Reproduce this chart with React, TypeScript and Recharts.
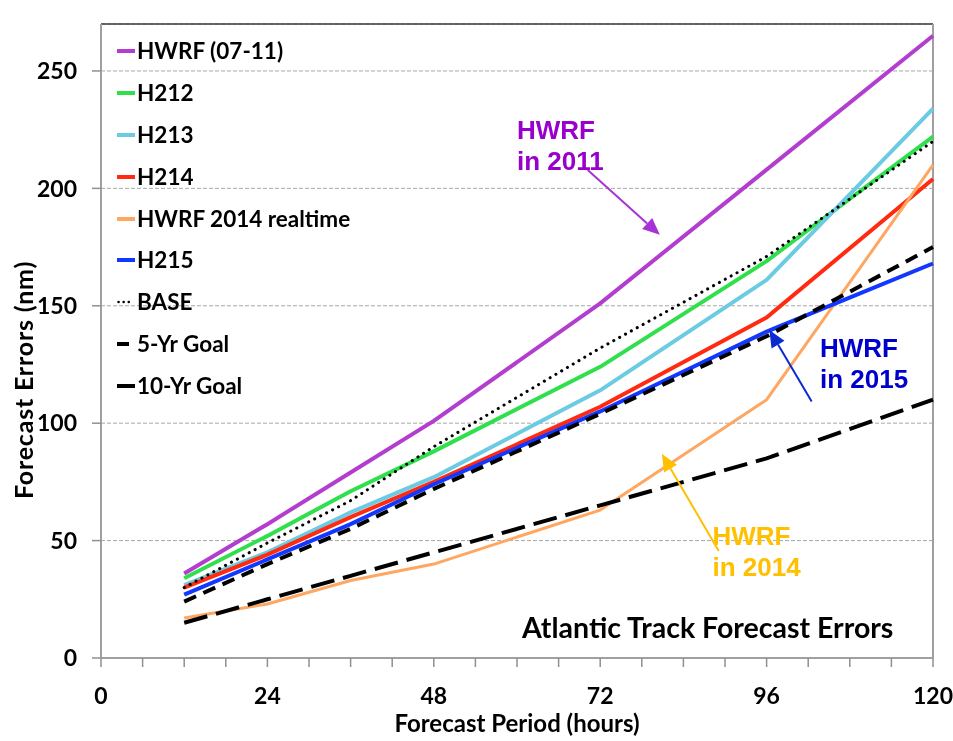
import React from 'react';
import {
  LineChart,
  Line,
  XAxis,
  YAxis,
  CartesianGrid,
  ReferenceLine,
  ReferenceDot,
  Legend,
  Label,
} from 'recharts';

// ---------- data ----------
const hours = [12, 24, 36, 48, 72, 96, 120];
const hwrf0711 = [36, 57, 79, 101, 151, 208, 265];
const h212 = [34, 52, 71, 88, 124, 169, 222];
const h213 = [31, 45, 62, 77, 114, 161, 234];
const h214 = [30, 44, 60, 75, 107, 145, 204];
const hwrf2014 = [17, 23, 33, 40, 63, 110, 210];
const h215 = [27, 42, 57, 74, 105, 139, 168];
const base = [30, 49, 67, 90, 132, 171, 220];
const goal5 = [24, 40, 55, 72, 104, 137, 175];
const goal10 = [15, 25, 35, 45, 65, 85, 110];

const xTicks = [0, 6, 12, 18, 24, 30, 36, 42, 48, 54, 60, 66, 72, 78, 84, 90, 96, 102, 108, 114, 120];
const yTicks = [0, 50, 100, 150, 200, 250];

const seriesNames = ['HWRF (07-11)', 'H212', 'H213', 'H214', 'HWRF 2014 realtime', 'H215', 'BASE', '5-Yr Goal', '10-Yr Goal'];
const seriesKeys = ['hwrf0711', 'h212', 'h213', 'h214', 'hwrf2014', 'h215', 'base', 'goal5', 'goal10'];
const seriesValues = [hwrf0711, h212, h213, h214, hwrf2014, h215, base, goal5, goal10];

// annotation anchors (data units)
const arrow2011 = [{ x: 70.2, y: 207.8 }, { x: 80.6, y: 180.2 }];
const arrow2015 = [{ x: 102.5, y: 109.2 }, { x: 96.4, y: 139.7 }];
const arrow2014 = [{ x: 89.1, y: 45.6 }, { x: 80.9, y: 86.9 }];
const note2011 = { x: 60.0, y: 221.0, lines: ['HWRF', 'in 2011'] };
const note2015 = { x: 103.7, y: 128.3, lines: ['HWRF', 'in 2015'] };
const note2014 = { x: 88.2, y: 48.1, lines: ['HWRF', 'in 2014'] };
const chartTitle = { x: 87.5, y: 8.5, text: 'Atlantic Track Forecast Errors' };

const data = hours.map((h, i) => {
  const row: Record<string, number> = { h };
  seriesKeys.forEach((k, j) => {
    row[k] = seriesValues[j][i];
  });
  return row;
});

// ---------- styles ----------
const styles: Record<string, { color: string; width: number; dash?: string; cap?: string; swatch: number }> = {
  hwrf0711: { color: '#B23DCF', width: 4, swatch: 18 },
  h212: { color: '#2FE04C', width: 4, swatch: 18 },
  h213: { color: '#6BCBE2', width: 4, swatch: 18 },
  h214: { color: '#FF2A10', width: 4, swatch: 18 },
  hwrf2014: { color: '#FFA661', width: 3, swatch: 18 },
  h215: { color: '#1238FF', width: 4, swatch: 18 },
  base: { color: '#000000', width: 3, dash: '0.1 6.6', cap: 'round', swatch: 13 },
  goal5: { color: '#000000', width: 4, dash: '13 8', swatch: 12 },
  goal10: { color: '#000000', width: 4, dash: '24 9', swatch: 18 },
};

const FONT = 'Lato, "Open Sans", sans-serif';

const makeArrow = (color: string) => (props: any) => {
  const { x1, y1, x2, y2 } = props;
  const dx = x2 - x1;
  const dy = y2 - y1;
  const len = Math.sqrt(dx * dx + dy * dy) || 1;
  const ux = dx / len;
  const uy = dy / len;
  const headLen = 17;
  const headHalf = 7.5;
  const bx = x2 - ux * headLen;
  const by = y2 - uy * headLen;
  const px = -uy;
  const py = ux;
  const pts = `${x2},${y2} ${bx + px * headHalf},${by + py * headHalf} ${bx - px * headHalf},${by - py * headHalf}`;
  return (
    <g>
      <line x1={x1} y1={y1} x2={bx} y2={by} stroke={color} strokeWidth={2} />
      <polygon points={pts} fill={color} />
    </g>
  );
};

const makeNote = (lines: string[], color: string) => (props: any) => {
  const { cx, cy } = props;
  return (
    <text
      x={cx}
      y={cy}
      fill={color}
      fontFamily='"Liberation Sans", Arial, sans-serif'
      fontWeight="bold"
      fontSize={26}
    >
      {lines.map((l, i) => (
        <tspan key={i} x={cx} dy={i === 0 ? 0 : 31}>
          {l}
        </tspan>
      ))}
    </text>
  );
};

const titleShape = (props: any) => (
  <text
    x={props.cx}
    y={props.cy}
    textAnchor="middle"
    fontFamily={FONT}
    fontWeight="bold"
    fontSize={28.5}
    fill="#000"
  >
    {chartTitle.text}
  </text>
);

const renderLegend = () => (
  <div style={{ fontFamily: FONT, fontWeight: 'bold', fontSize: 22.5, color: '#000' }}>
    {seriesKeys.map((k, i) => {
      const s = styles[k];
      return (
        <div key={k} style={{ height: 41.9, lineHeight: '41.9px', display: 'flex', alignItems: 'center', whiteSpace: 'nowrap' }}>
          <svg width={20} height={10} style={{ display: 'block', flex: 'none' }}>
            <line
              x1={k === 'base' ? 1.5 : 0}
              y1={5}
              x2={s.swatch}
              y2={5}
              stroke={s.color}
              strokeWidth={k === 'base' ? 2.5 : 4}
              strokeDasharray={k === 'base' ? '0.1 5' : undefined}
              strokeLinecap={k === 'base' ? 'round' : 'butt'}
            />
          </svg>
          <span>{seriesNames[i]}</span>
        </div>
      );
    })}
  </div>
);

const tickStyle = { fontFamily: FONT, fontWeight: 'bold', fontSize: 23, fill: '#000' };

export default function App() {
  return (
    <div style={{ position: 'fixed', left: 8, top: 8, width: 945, height: 733 }}>
      <LineChart
        width={945}
        height={733}
        data={data}
        margin={{ top: 16, right: 20, left: 0, bottom: 0 }}
        style={{ fontFamily: FONT, overflow: 'visible' }}
      >
        <CartesianGrid vertical={false} stroke="#a8a8a8" strokeDasharray="4 2" strokeWidth={1} />
        <XAxis
          dataKey="h"
          type="number"
          domain={[0, 120]}
          ticks={xTicks}
          interval={0}
          tickFormatter={(v: number) => (v % 24 === 0 ? String(v) : '')}
          tick={tickStyle}
          tickSize={9}
          tickMargin={21}
          height={83}
          stroke="#a0a0a0"
          axisLine={{ stroke: '#a0a0a0', strokeWidth: 2 }}
          tickLine={{ stroke: '#909090', strokeWidth: 1.5 }}
        >
          <Label
            content={(p: any) => {
              const vb = p.viewBox || { x: 93, y: 650, width: 832, height: 83 };
              return (
                <text
                  x={vb.x + vb.width / 2}
                  y={724}
                  textAnchor="middle"
                  fontFamily={FONT}
                  fontWeight="bold"
                  fontSize={24}
                  fill="#000"
                >
                  Forecast Period (hours)
                </text>
              );
            }}
          />
        </XAxis>
        <YAxis
          type="number"
          domain={[0, 270]}
          ticks={yTicks}
          interval={0}
          tick={tickStyle}
          tickSize={9}
          tickMargin={15}
          width={93}
          axisLine={{ stroke: '#a0a0a0', strokeWidth: 2 }}
          tickLine={{ stroke: '#909090', strokeWidth: 1.5 }}
        >
          <Label
            content={() => {
              const cx = 15;
              const cy = 372;
              return (
                <text
                  x={cx}
                  y={cy}
                  transform={`rotate(-90 ${cx} ${cy})`}
                  textAnchor="middle"
                  dominantBaseline="central"
                  fontFamily={FONT}
                  fontWeight="bold"
                  fontSize={25}
                  letterSpacing={0.8}
                  fill="#000"
                >
                  Forecast Errors (nm)
                </text>
              );
            }}
          />
        </YAxis>
        <ReferenceLine y={270} stroke="#3a3a3a" strokeWidth={1.5} ifOverflow="visible" />
        <ReferenceLine x={120} stroke="#a0a0a0" strokeWidth={2} ifOverflow="visible" />

        {seriesKeys.map((k, i) => {
          const s = styles[k];
          return (
            <Line
              key={k}
              dataKey={k}
              name={seriesNames[i]}
              stroke={s.color}
              strokeWidth={s.width}
              strokeDasharray={s.dash}
              strokeLinecap={(s.cap as any) || 'butt'}
              strokeLinejoin="round"
              dot={false}
              activeDot={false}
              isAnimationActive={false}
              type="linear"
            />
          );
        })}

        <ReferenceLine segment={arrow2011} shape={makeArrow('#A733D6')} ifOverflow="visible" />
        <ReferenceLine segment={arrow2015} shape={makeArrow('#0A2BD0')} ifOverflow="visible" />
        <ReferenceLine segment={arrow2014} shape={makeArrow('#FFC000')} ifOverflow="visible" />

        <ReferenceDot x={note2011.x} y={note2011.y} r={0} ifOverflow="visible" shape={makeNote(note2011.lines, '#9900CC')} />
        <ReferenceDot x={note2015.x} y={note2015.y} r={0} ifOverflow="visible" shape={makeNote(note2015.lines, '#0000CC')} />
        <ReferenceDot x={note2014.x} y={note2014.y} r={0} ifOverflow="visible" shape={makeNote(note2014.lines, '#FFC000')} />
        <ReferenceDot x={chartTitle.x} y={chartTitle.y} r={0} ifOverflow="visible" shape={titleShape} />

        <Legend
          layout="vertical"
          align="center"
          verticalAlign="middle"
          content={renderLegend}
          wrapperStyle={{ left: 109, top: 22, width: 320, height: 'auto' }}
        />
      </LineChart>
    </div>
  );
}
